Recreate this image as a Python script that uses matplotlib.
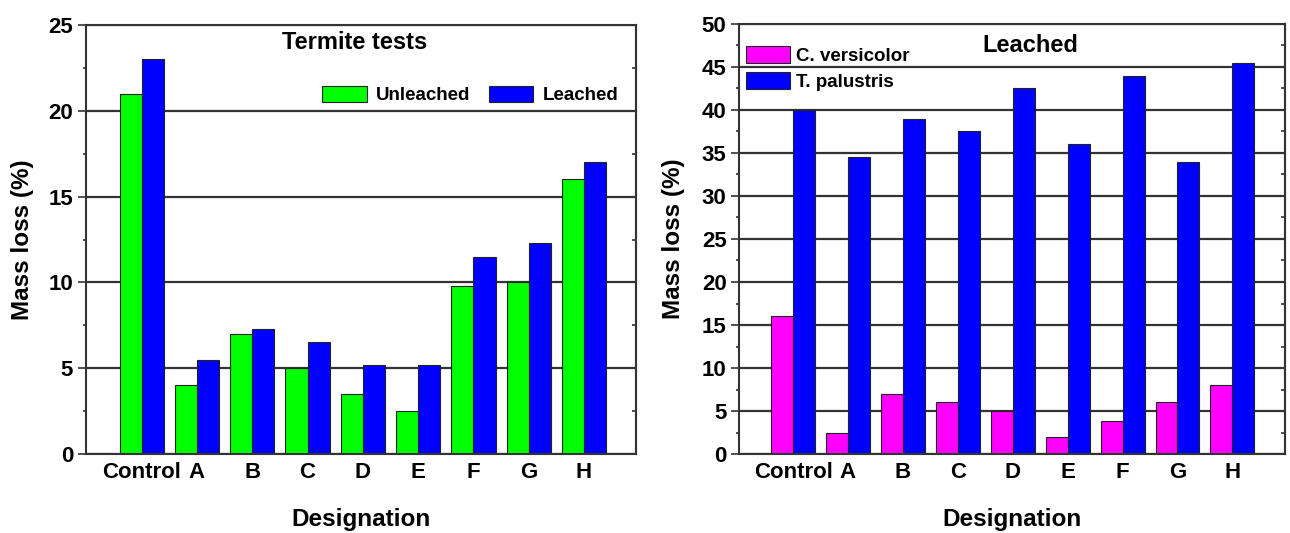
import matplotlib
matplotlib.use("Agg")
import matplotlib.pyplot as plt
import numpy as np
from matplotlib.ticker import MultipleLocator

plt.rcParams['font.family'] = ['Liberation Sans', 'DejaVu Sans']
plt.rcParams['font.weight'] = 'bold'

# data
designations = ['Control', 'A', 'B', 'C', 'D', 'E', 'F', 'G', 'H']
termite_unleached = [21, 4, 7, 5, 3.5, 2.5, 9.8, 10, 16]
termite_leached = [23, 5.5, 7.3, 6.5, 5.2, 5.2, 11.5, 12.3, 17]
c_versicolor = [16, 2.5, 7, 6, 5, 2, 3.8, 6, 8]
t_palustris = [40, 34.5, 39, 37.5, 42.5, 36, 44, 34, 45.5]

GREEN = '#00ff00'
BLUE = '#0000ff'
MAGENTA = '#ff00ff'
EDGE = '#222222'
DARK = '#333333'

fig = plt.figure(figsize=(12.9, 5.33), dpi=100)


def style_axes(ax, ymax, major, minor, xlim):
    x = np.arange(len(designations))
    ax.set_xlim(*xlim)
    ax.set_ylim(0, ymax)
    ax.set_xticks(x)
    ax.set_xticklabels(designations, fontsize=16, fontweight='bold')
    ax.tick_params(axis='x', length=0, pad=5.5)
    ax.yaxis.set_major_locator(MultipleLocator(major))
    ax.yaxis.set_minor_locator(MultipleLocator(minor))
    ax.tick_params(axis='y', which='major', direction='out', length=5.5,
                   width=1.2, color=DARK, labelsize=16, pad=3.5)
    ax.tick_params(axis='y', which='minor', direction='out', length=2,
                   width=1.2, color=DARK)
    for lab in ax.get_yticklabels():
        lab.set_fontweight('bold')
    ax.set_axisbelow(True)
    ax.yaxis.grid(True, which='major', color=DARK, lw=1.6)
    for s in ax.spines.values():
        s.set_color(DARK)
        s.set_linewidth(1.5)
    # inward ticks on the right spine
    sec = ax.secondary_yaxis('right')
    sec.yaxis.set_major_locator(MultipleLocator(major))
    sec.yaxis.set_minor_locator(MultipleLocator(minor))
    sec.tick_params(which='both', direction='in', labelright=False,
                    color=DARK, width=1.2)
    sec.tick_params(which='major', length=4)
    sec.tick_params(which='minor', length=3)
    sec.spines['right'].set_color(DARK)
    sec.spines['right'].set_linewidth(1.5)
    ax.set_xlabel('Designation', fontsize=17.5, fontweight='bold')
    ax.set_ylabel('Mass loss (%)', fontsize=17.5, fontweight='bold')


# left panel: termite tests
ax1 = fig.add_axes([0.0664, 0.1482, 0.4266, 0.8049])
x = np.arange(len(designations))
ax1.bar(x - 0.2, termite_unleached, 0.4, color=GREEN, edgecolor=EDGE,
        lw=0.8, label='Unleached')
ax1.bar(x + 0.2, termite_leached, 0.4, color=BLUE, edgecolor=EDGE,
        lw=0.8, label='Leached')
style_axes(ax1, 25, 5, 2.5, (-1.013, 8.94))
ax1.xaxis.set_label_coords(0.5, -0.126)
ax1.yaxis.set_label_coords(-0.094, 0.5)
ax1.text(0.489, 0.960, 'Termite tests', transform=ax1.transAxes,
         ha='center', va='center', fontsize=17, fontweight='bold')
ax1.legend(loc='center', bbox_to_anchor=(0.699, 0.837), ncol=2,
           frameon=False, handlelength=2.35,
           handleheight=1.0, handletextpad=0.5, columnspacing=1.0,
           borderpad=0, prop={'weight': 'bold', 'size': 13.5})

# right panel: leached, fungi
ax2 = fig.add_axes([0.5729, 0.1482, 0.4233, 0.8068])
ax2.bar(x - 0.2, c_versicolor, 0.4, color=MAGENTA, edgecolor=EDGE,
        lw=0.8, label='C. versicolor')
ax2.bar(x + 0.2, t_palustris, 0.4, color=BLUE, edgecolor=EDGE,
        lw=0.8, label='T. palustris')
style_axes(ax2, 50, 5, 2.5, (-0.984, 8.96))
ax2.xaxis.set_label_coords(0.5, -0.126)
ax2.yaxis.set_label_coords(-0.099, 0.5)
ax2.text(0.533, 0.951, 'Leached', transform=ax2.transAxes,
         ha='center', va='center', fontsize=17, fontweight='bold')
ax2.legend(loc='upper left', bbox_to_anchor=(0.0128, 0.948),
           frameon=False, handlelength=2.35, handleheight=1.0,
           handletextpad=0.3, labelspacing=0.35, borderpad=0,
           borderaxespad=0, prop={'weight': 'bold', 'size': 13.5})

fig.savefig('out.png', dpi=100)
